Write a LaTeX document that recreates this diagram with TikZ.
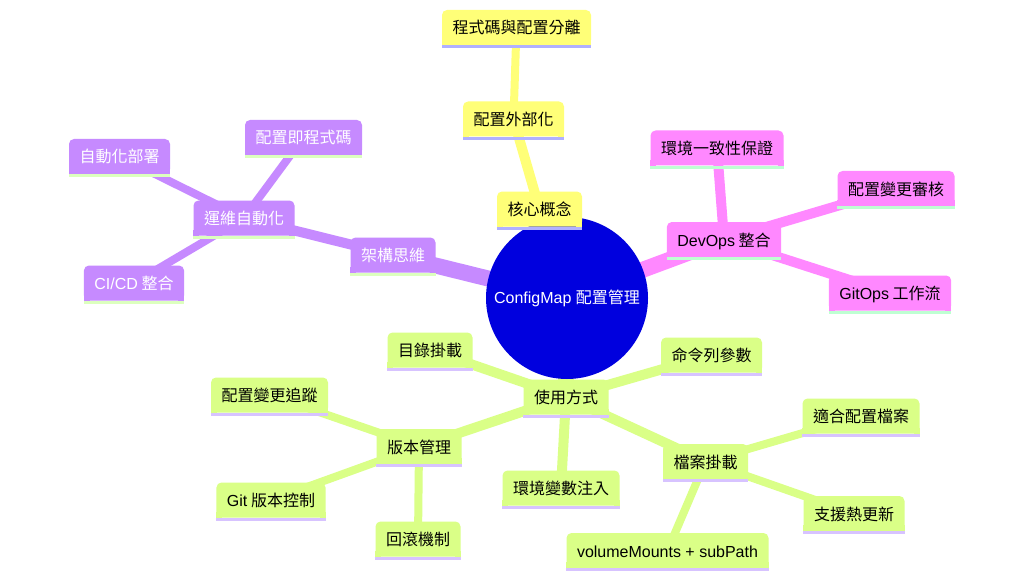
\documentclass[tikz,border=0pt]{standalone}
\usepackage{fontspec}
\setmainfont{Liberation Sans}
\newfontfamily\cjk{Noto Sans CJK TC}
\newcommand\lat{\rmfamily}
\usetikzlibrary{backgrounds}
\definecolor{yelF}{RGB}{255,255,120}
\definecolor{yelU}{RGB}{176,176,255}
\definecolor{purF}{RGB}{198,138,255}
\definecolor{purU}{RGB}{220,255,190}
\definecolor{pinF}{RGB}{255,136,255}
\definecolor{pinU}{RGB}{190,255,210}
\definecolor{grnF}{RGB}{218,255,135}
\definecolor{grnU}{RGB}{215,195,255}
\definecolor{rootB}{RGB}{0,0,222}
\begin{document}
\begin{tikzpicture}[x=1pt,y=-1pt,
  mm/.style={rounded corners=5pt, minimum height=35pt, inner xsep=10.5pt, inner ysep=0pt,
    text height=14pt, text depth=1pt, font=\fontsize{16pt}{19pt}\selectfont\cjk},
  yel/.style={mm, fill=yelF, text=black},
  pur/.style={mm, fill=purF, text=white},
  pin/.style={mm, fill=pinF, text=black},
  grn/.style={mm, fill=grnF, text=black},
  eA/.style={line width=16pt},
  eB/.style={line width=10pt},
  eC/.style={line width=8pt}]
\useasboundingbox (0,0) rectangle (1024,580);
% root
\node[circle, fill=rootB, minimum size=162pt, inner sep=0pt, text=white,
  font=\fontsize{16pt}{19pt}\selectfont] (root) at (567,298) {ConfigMap {\cjk 配置管理}};
% yellow
\node[yel] (y1) at (539.5,209) {核心概念};
\node[yel] (y2) at (513.5,119) {配置外部化};
\node[yel] (y3) at (516.5,27.5) {程式碼與配置分離};
% purple
\node[pur] (p1) at (393,255) {架構思維};
\node[pur] (p2) at (244,218) {運維自動化};
\node[pur] (p3) at (119.5,156.5) {自動化部署};
\node[pur] (p4) at (303.5,137.5) {配置即程式碼};
\node[pur] (p5) at (134,283) {{\lat CI/CD} 整合};
% pink
\node[pin] (k1) at (724,239.5) {{\lat DevOps} 整合};
\node[pin] (k2) at (717,148) {環境一致性保證};
\node[pin] (k3) at (896,188.5) {配置變更審核};
\node[pin] (k4) at (890,293) {{\lat GitOps} 工作流};
% green
\node[grn] (g1) at (566,397) {使用方式};
\node[grn] (g2) at (430,350) {目錄掛載};
\node[grn] (g3) at (711.5,355) {命令列參數};
\node[grn] (g4) at (419,446.5) {版本管理};
\node[grn] (g5) at (561,488) {環境變數注入};
\node[grn] (g6) at (705.5,461.5) {檔案掛載};
\node[grn] (g7) at (269.5,395) {配置變更追蹤};
\node[grn] (g8) at (271,500) {{\lat Git} 版本控制};
\node[grn] (g9) at (418,539) {回滾機制};
\node[grn] (g10) at (861,416) {適合配置檔案};
\node[grn] (g11) at (854,513.5) {支援熱更新};
\node[grn] (g12) at (667.5,550.5) {\lat volumeMounts + subPath};
% square bottom corners and underlines
\foreach \n/\f/\u in {y1/yelF/yelU,y2/yelF/yelU,y3/yelF/yelU,
  p1/purF/purU,p2/purF/purU,p3/purF/purU,p4/purF/purU,p5/purF/purU,
  k1/pinF/pinU,k2/pinF/pinU,k3/pinF/pinU,k4/pinF/pinU,
  g1/grnF/grnU,g2/grnF/grnU,g3/grnF/grnU,g4/grnF/grnU,g5/grnF/grnU,g6/grnF/grnU,
  g7/grnF/grnU,g8/grnF/grnU,g9/grnF/grnU,g10/grnF/grnU,g11/grnF/grnU,g12/grnF/grnU}{
  \fill[\f] (\n.south west) rectangle ([xshift=6pt,yshift=6pt]\n.south west);
  \fill[\f] (\n.south east) rectangle ([xshift=-6pt,yshift=6pt]\n.south east);
  \fill[\u] (\n.south west) rectangle ([yshift=-3pt]\n.south east);
}
% edges
\begin{scope}[on background layer]
\fill[white] (0,0) rectangle (1024,580);
\draw[eA, yelF] (root.center) -- (y1.center);
\draw[eB, yelF] (y1.center) -- (y2.center);
\draw[eC, yelF] (y2.center) -- (y3.center);
\draw[eA, purF] (root.center) -- (p1.center);
\draw[eB, purF] (p1.center) -- (p2.center);
\draw[eC, purF] (p2.center) -- (p3.center);
\draw[eC, purF] (p2.center) -- (p4.center);
\draw[eC, purF] (p2.center) -- (p5.center);
\draw[eA, pinF] (root.center) -- (k1.center);
\draw[eB, pinF] (k1.center) -- (k2.center);
\draw[eB, pinF] (k1.center) -- (k3.center);
\draw[eB, pinF] (k1.center) -- (k4.center);
\draw[eA, grnF] (root.center) -- (g1.center);
\draw[eB, grnF] (g1.center) -- (g2.center);
\draw[eB, grnF] (g1.center) -- (g3.center);
\draw[eB, grnF] (g1.center) -- (g4.center);
\draw[eB, grnF] (g1.center) -- (g5.center);
\draw[eB, grnF] (g1.center) -- (g6.center);
\draw[eC, grnF] (g4.center) -- (g7.center);
\draw[eC, grnF] (g4.center) -- (g8.center);
\draw[eC, grnF] (g4.center) -- (g9.center);
\draw[eC, grnF] (g6.center) -- (g10.center);
\draw[eC, grnF] (g6.center) -- (g11.center);
\draw[eC, grnF] (g6.center) -- (g12.center);
\end{scope}
\end{tikzpicture}
\end{document}
